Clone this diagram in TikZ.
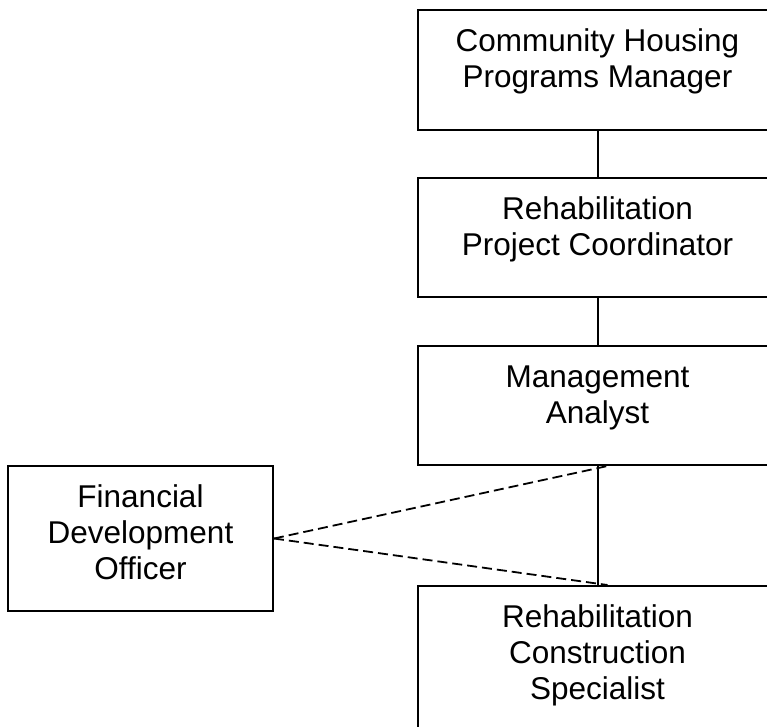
\documentclass[tikz,border=0pt]{standalone}
\usepackage{fontspec}
\setmainfont{Liberation Sans}
\usetikzlibrary{calc}

\newcommand{\orgfont}{\fontsize{31.5}{36}\selectfont}
\newcommand{\orgtext}[3]{\parbox[c][#2pt][t]{#1pt}{\centering\rule{0pt}{41pt}#3}}

\begin{document}
\begin{tikzpicture}[x=1pt,y=-1pt,
    orgbox/.style={draw, rectangle, line width=2pt, inner sep=0pt, font=\orgfont},
    solidlink/.style={line width=2pt},
    dashlink/.style={line width=1.8pt, dash pattern=on 10pt off 5pt}]
        \useasboundingbox (0,0) rectangle (767,726);
        \clip (0,0) rectangle (767,726);

        % 1. Main chain of boxes
        \node[orgbox] (chpm) at (597.5, 70) {\orgtext{359}{120}{Community Housing\\Programs Manager}};
        \node[orgbox] (rpc) at (597.5, 237.5) {\orgtext{359}{119}{Rehabilitation\\Project Coordinator}};
        \node[orgbox] (ma) at (597.5, 405.5) {\orgtext{359}{119}{Management\\Analyst}};
        \node[orgbox] (rcs) at (597.5, 658.5) {\orgtext{359}{145}{Rehabilitation\\Construction\\Specialist}};

        % 2. Side box
        \node[orgbox] (fdo) at (140.5, 538.5) {\orgtext{265}{145}{Financial\\Development\\Officer}};

        % 3. Solid links
        \draw[solidlink] (chpm.south) -- (rpc.north);
        \draw[solidlink] (rpc.south) -- (ma.north);
        \draw[solidlink] (ma.south) -- (rcs.north);

        % 4. Dashed links
        \coordinate (maend) at ($(ma.south)+(10,0)$);
        \coordinate (rcsend) at ($(rcs.north)+(10,0)$);
        \draw[dashlink] (fdo.east) -- (maend);
        \draw[dashlink] (fdo.east) -- (rcsend);
\end{tikzpicture}
\end{document}
